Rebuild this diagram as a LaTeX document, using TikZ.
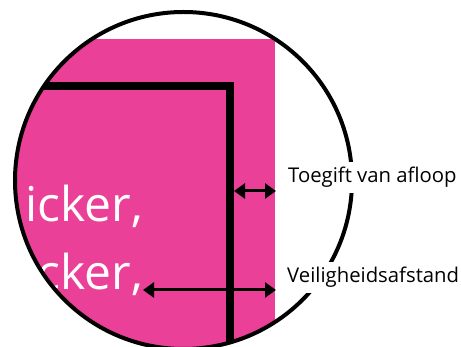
\documentclass[tikz,border=0pt]{standalone}
\usepackage{fontspec}
\setmainfont{Open Sans}
\usetikzlibrary{arrows.meta}
\definecolor{stickpink}{RGB}{234,64,152}
\tikzset{
  dimarrow/.style={line width=3pt,{Triangle[length=11pt,width=15pt]}-{Triangle[length=11pt,width=15pt]}},
  lbl/.style={anchor=base west,fill=white,inner sep=5pt,font=\fontsize{20.3}{22}\selectfont},
  bigtxt/.style={anchor=base east,text=white,inner sep=0pt,font=\fontsize{48}{50}\selectfont}
}
\begin{document}
\begin{tikzpicture}[x=1pt,y=-1pt]
\useasboundingbox (0,0) rectangle (461,347);
\coordinate (c) at (183.5,180.5);
\begin{scope}
  \clip (c) circle[radius=168.5];
  \fill[stickpink] (0,39) rectangle (275,360);
  \node[bigtxt] (t1) at (143,222) {icker,};
  \node[bigtxt] (t2) at (143,290) {icker,};
  \draw[line width=8pt,miter limit=10] (0,86) -- (230,86) -- (230,360);
\end{scope}
\coordinate (a1) at (234,191);
\coordinate (a2) at (276,191);
\coordinate (b1) at (143,290);
\coordinate (b2) at (276,290);
\draw[dimarrow] (a1) -- (a2);
\draw[dimarrow] (b1) -- (b2);
\draw[line width=4pt] (c) circle[radius=168.5];
\node[lbl] (l1) at (283,183) {Toegift van afloop};
\node[lbl] (l2) at (282,283) {Veiligheidsafstand};
\end{tikzpicture}
\end{document}
